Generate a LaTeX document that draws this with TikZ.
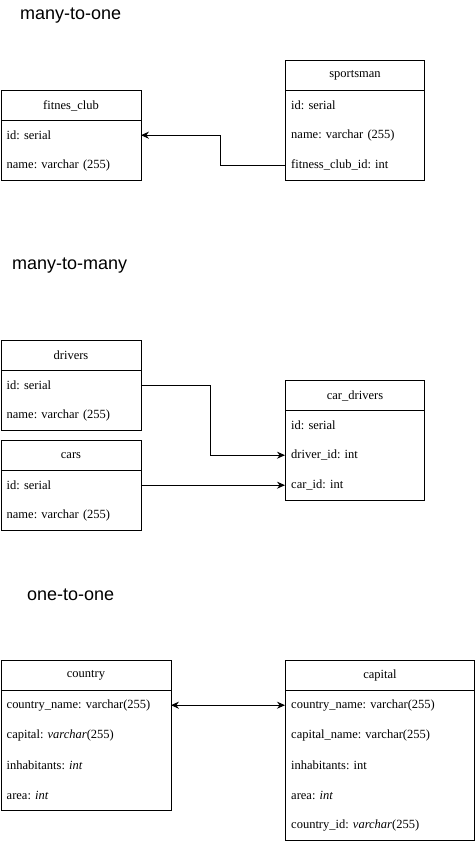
\documentclass[tikz,border=0pt]{standalone}
\usepackage{fontspec}
\setmainfont{Liberation Serif}
\newfontfamily\headfont{Liberation Sans}
\usetikzlibrary{arrows.meta}
\frenchspacing
\begin{document}
\begin{tikzpicture}[x=1pt,y=1pt,
  every node/.style={font=\fontsize{12.5}{14}\selectfont},
  tablebox/.style={draw, line width=1pt, anchor=north west, inner sep=0pt},
  headbox/.style={draw, line width=1pt, anchor=north west, inner sep=0pt, minimum height=30pt, align=center},
  rowbox/.style={anchor=north west, inner xsep=6pt, inner ysep=0pt, minimum height=30pt, align=left, execute at begin node=\frenchspacing},
  title/.style={anchor=west, inner sep=0pt, font=\headfont\fontsize{18}{20}\selectfont},
  link/.style={line width=1pt, -{Stealth[length=8pt,width=7pt]}},
  dlink/.style={line width=1pt, {Stealth[length=8pt,width=7pt]}-{Stealth[length=8pt,width=7pt]}}
]
\useasboundingbox (0,0) rectangle (475,-841);

% titles
\node[title] (t1) at (20,-16) {many-to-one};
\node[title] (t2) at (12,-266) {many-to-many};
\node[title] (t3) at (27,-595) {one-to-one};

% fitnes_club
\node[tablebox, minimum width=140pt, minimum height=90pt] (fcbox) at (0.5,-90) {};
\node[headbox, minimum width=140pt] (fch) at (0.5,-90) {fitnes\_club};
\node[rowbox, text width=128pt] (fc1) at (0.5,-120) {id: serial};
\node[rowbox, text width=128pt] (fc2) at (0.5,-150) {name: varchar (255)};

% sportsman
\node[tablebox, minimum width=139pt, minimum height=120pt] (spbox) at (285,-60) {};
\node[headbox, minimum width=139pt] (sph) at (285,-60) {sportsman};
\node[rowbox, text width=127pt] (sp1) at (285,-90) {id: serial};
\node[rowbox, text width=127pt] (sp2) at (285,-120) {name: varchar (255)};
\node[rowbox, text width=127pt] (sp3) at (285,-150) {fitness\_club\_id: int};

\coordinate (m1) at (220,0);
\draw[link] (sp3.west) -| (m1 |- sp3.west) |- (fc1.east);

% drivers
\node[tablebox, minimum width=140pt, minimum height=90pt] (drbox) at (0.5,-340) {};
\node[headbox, minimum width=140pt] (drh) at (0.5,-340) {drivers};
\node[rowbox, text width=128pt] (dr1) at (0.5,-370) {id: serial};
\node[rowbox, text width=128pt] (dr2) at (0.5,-400) {name: varchar (255)};

% cars
\node[tablebox, minimum width=140pt, minimum height=90pt] (cabox) at (0.5,-440) {};
\node[headbox, minimum width=140pt] (cah) at (0.5,-440) {cars};
\node[rowbox, text width=128pt] (ca1) at (0.5,-470) {id: serial};
\node[rowbox, text width=128pt] (ca2) at (0.5,-500) {name: varchar (255)};

% car_drivers
\node[tablebox, minimum width=139pt, minimum height=120pt] (cdbox) at (285,-380) {};
\node[headbox, minimum width=139pt] (cdh) at (285,-380) {car\_drivers};
\node[rowbox, text width=127pt] (cd1) at (285,-410) {id: serial};
\node[rowbox, text width=127pt] (cd2) at (285,-440) {driver\_id: int};
\node[rowbox, text width=127pt] (cd3) at (285,-470) {car\_id: int};

\coordinate (m2) at (210,0);
\draw[link] (dr1.east) -| (m2 |- dr1.east) |- (cd2.west);
\draw[link] (ca1.east) -- (cd3.west);

% country
\node[tablebox, minimum width=170pt, minimum height=150pt] (cobox) at (0.5,-660) {};
\node[headbox, minimum width=170pt] (coh) at (0.5,-660) {country};
\node[rowbox, text width=158pt] (co1) at (0.5,-690) {country\_name: varchar(255)};
\node[rowbox, text width=158pt] (co2) at (0.5,-720) {capital: \textit{varchar}(255)};
\node[rowbox, text width=158pt] (co3) at (0.5,-750) {inhabitants: \textit{int}};
\node[rowbox, text width=158pt] (co4) at (0.5,-780) {area: \textit{int}};

% capital
\node[tablebox, minimum width=189pt, minimum height=179.5pt] (cpbox) at (285,-660) {};
\node[headbox, minimum width=189pt] (cph) at (285,-660) {capital};
\node[rowbox, text width=177pt] (cp1) at (285,-690) {country\_name: varchar(255)};
\node[rowbox, text width=177pt] (cp2) at (285,-720) {capital\_name: varchar(255)};
\node[rowbox, text width=177pt] (cp3) at (285,-750) {inhabitants: int};
\node[rowbox, text width=177pt] (cp4) at (285,-780) {area: \textit{int}};
\node[rowbox, text width=177pt] (cp5) at (285,-810) {country\_id: \textit{varchar}(255)};

\draw[dlink] (co1.east) -- (cp1.west);
\end{tikzpicture}
\end{document}
